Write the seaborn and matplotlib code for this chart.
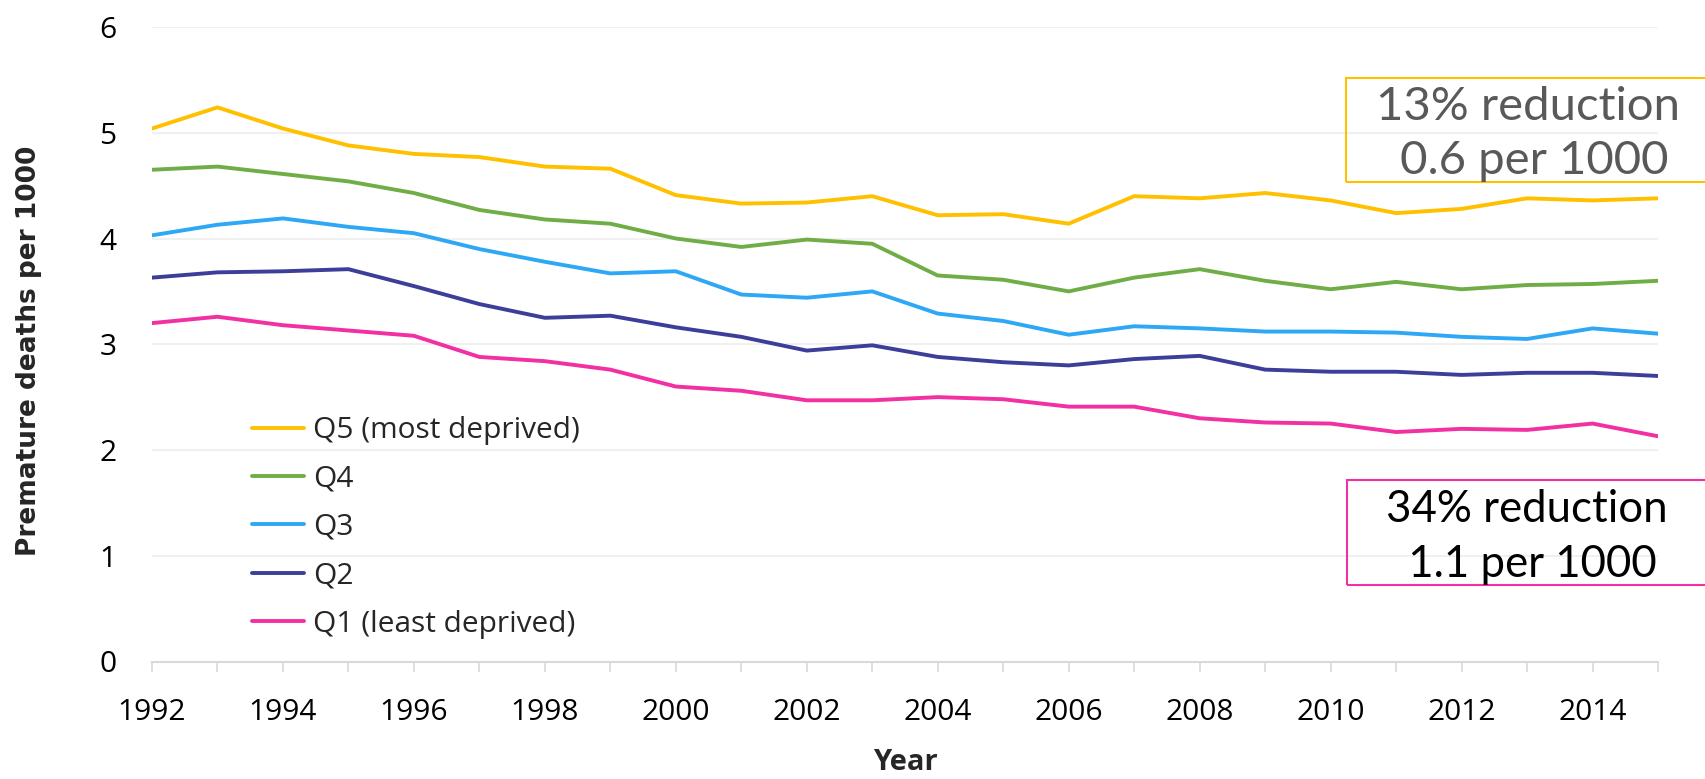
import matplotlib
matplotlib.use("Agg")
import matplotlib.pyplot as plt
import matplotlib.patches as mpatches
import seaborn as sns
import pandas as pd

years = list(range(1992, 2016))
q5 = [5.04, 5.24, 5.04, 4.88, 4.80, 4.77, 4.68, 4.66, 4.41, 4.33, 4.34, 4.40,
      4.22, 4.23, 4.14, 4.40, 4.38, 4.43, 4.36, 4.24, 4.28, 4.38, 4.36, 4.38]
q4 = [4.65, 4.68, 4.61, 4.54, 4.43, 4.27, 4.18, 4.14, 4.00, 3.92, 3.99, 3.95,
      3.65, 3.61, 3.50, 3.63, 3.71, 3.60, 3.52, 3.59, 3.52, 3.56, 3.57, 3.60]
q3 = [4.03, 4.13, 4.19, 4.11, 4.05, 3.90, 3.78, 3.67, 3.69, 3.47, 3.44, 3.50,
      3.29, 3.22, 3.09, 3.17, 3.15, 3.12, 3.12, 3.11, 3.07, 3.05, 3.15, 3.10]
q2 = [3.63, 3.68, 3.69, 3.71, 3.55, 3.38, 3.25, 3.27, 3.16, 3.07, 2.94, 2.99,
      2.88, 2.83, 2.80, 2.86, 2.89, 2.76, 2.74, 2.74, 2.71, 2.73, 2.73, 2.70]
q1 = [3.20, 3.26, 3.18, 3.13, 3.08, 2.88, 2.84, 2.76, 2.60, 2.56, 2.47, 2.47,
      2.50, 2.48, 2.41, 2.41, 2.30, 2.26, 2.25, 2.17, 2.20, 2.19, 2.25, 2.13]

labels = ["Q5 (most deprived)", "Q4", "Q3", "Q2", "Q1 (least deprived)"]
colors = ["#FFC000", "#70AD47", "#2EA8F5", "#3D3D9A", "#F22FA3"]
series = [q5, q4, q3, q2, q1]

box1_text = "13% reduction\n 0.6 per 1000"
box2_text = "34% reduction\n 1.1 per 1000"

rows = []
for lab, vals in zip(labels, series):
    for y, v in zip(years, vals):
        rows.append({"Year": y, "value": v, "group": lab})
df = pd.DataFrame(rows)

sns.set_style("white")
plt.rcParams["font.family"] = ["Open Sans", "DejaVu Sans"]

fig = plt.figure(figsize=(17.06, 7.79), dpi=100)
ax = fig.add_axes([152/1706, 1-661.5/779, (1658-152)/1706, (661.5-27)/779])

sns.lineplot(data=df, x="Year", y="value", hue="group", hue_order=labels,
             palette=colors, linewidth=2.8, ax=ax)

ax.set_xlim(1992, 2015)
ax.set_ylim(0, 6)
ax.set_yticks(range(0, 7))
ax.set_xticks(years)
ax.set_xticklabels([str(y) if y % 2 == 0 else "" for y in years])
ax.yaxis.grid(True, color="#EDEDED", linewidth=1.2)
ax.xaxis.grid(False)
for s in ["left", "right", "top"]:
    ax.spines[s].set_visible(False)
ax.spines["bottom"].set_color("#D9D9D9")
ax.spines["bottom"].set_linewidth(1.5)
ax.tick_params(axis="x", bottom=True, length=7, width=1.2, color="#D9D9D9",
               labelsize=21.5, pad=19, labelcolor="#000000")
ax.tick_params(axis="y", left=False, labelsize=21.5, pad=22, labelcolor="#000000")

ax.set_xlabel("Year", fontsize=21, fontweight="bold")
ax.xaxis.set_label_coords(0.5, -0.137)
ax.set_ylabel("Premature deaths per 1000", fontsize=19, fontweight="bold",
              family=["DejaVu Sans"])
ax.yaxis.set_label_coords(-0.073, 0.49)

handles, labs = ax.get_legend_handles_labels()
leg = ax.legend(handles, labs, loc="upper left",
                bbox_to_anchor=(252/1706, 1-416/779),
                bbox_transform=fig.transFigure, frameon=False,
                fontsize=21.5, handlelength=1.75, handletextpad=0.3,
                labelspacing=0.65, borderpad=0, borderaxespad=0)
for line in leg.get_lines():
    line.set_linewidth(2.8)

# Annotation boxes
r1 = mpatches.Rectangle((1346/1706, 1-182/779), (1710-1346)/1706, (182-78)/779,
                        transform=fig.transFigure, fill=False,
                        edgecolor="#FFC000", linewidth=1.5, clip_on=False)
r2 = mpatches.Rectangle((1347/1706, 1-585/779), (1710-1347)/1706, (585-480)/779,
                        transform=fig.transFigure, fill=False,
                        edgecolor="#F22FA3", linewidth=1.5, clip_on=False)
fig.patches.extend([r1, r2])
fig.text(1528/1706, 1-134/779, box1_text, ha="center", va="center",
         multialignment="center", fontsize=34, color="#595959",
         family=["Lato", "DejaVu Sans"], linespacing=1.38)
fig.text(1527/1706, 1-537/779, box2_text, ha="center", va="center",
         multialignment="center", fontsize=31.5, color="#000000",
         family=["Lato", "DejaVu Sans"], linespacing=1.42)

fig.savefig("out.png", dpi=100)
